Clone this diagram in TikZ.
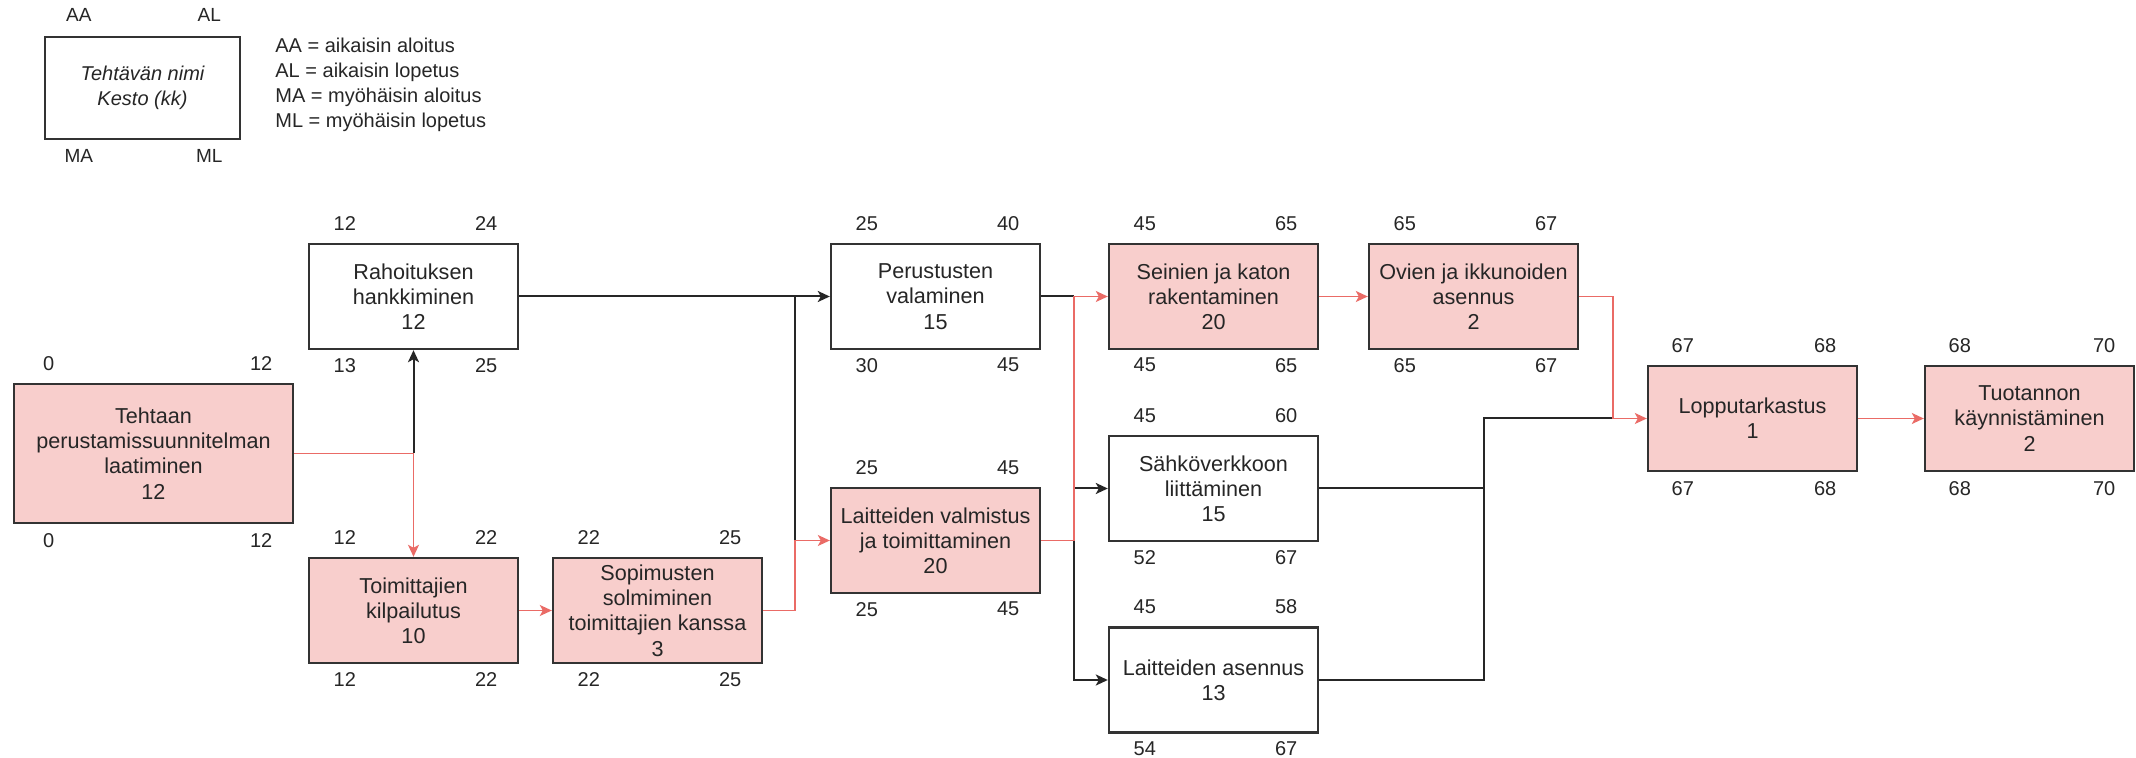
\documentclass[tikz,border=0pt]{standalone}
\usepackage{fontspec}
\setmainfont{Liberation Sans}
\usetikzlibrary{arrows.meta}

\definecolor{critfill}{HTML}{F8CECC}
\definecolor{critline}{HTML}{EA6B66}
\definecolor{boxline}{HTML}{333333}

\begin{document}
\begin{tikzpicture}[x=0.5pt, y=-0.5pt,
    task/.style={draw=boxline, line width=1.2pt, fill=white, minimum width=104.5pt, minimum height=52.5pt,
        inner sep=1pt, align=center, text=black!85, font=\fontsize{10.8}{12.6}\selectfont},
    crittask/.style={task, fill=critfill},
    num/.style={inner sep=0pt, text=black!85, font=\fontsize{10}{12}\selectfont},
    norm/.style={draw=black!85, line width=1pt},
    crit/.style={draw=critline, line width=0.7pt},
    nuoli/.style={-{Stealth[length=6pt, width=5.5pt, inset=1.5pt]}}
]

    % Fix the size of the picture
    \path[fill=white, use as bounding box] (0,0) rectangle (2136,758);

    % Legend box and its explanation
    \node[task, minimum width=97.5pt, minimum height=51pt, font=\itshape\fontsize{10}{12.5}\selectfont] (leg) at (142.5,88) {Tehtävän nimi\\Kesto (kk)};
    \node[num, font=\fontsize{9.5}{11}\selectfont] at ([xshift=17.5pt, yshift=10.5pt]leg.north west) {AA};
    \node[num, font=\fontsize{9.5}{11}\selectfont] at ([xshift=-16pt, yshift=10.5pt]leg.north east) {AL};
    \node[num, font=\fontsize{9.5}{11}\selectfont] at ([xshift=17.5pt, yshift=-8pt]leg.south west) {MA};
    \node[num, font=\fontsize{9.5}{11}\selectfont] at ([xshift=-16pt, yshift=-8pt]leg.south east) {ML};
    \node[num, anchor=west, align=left, font=\fontsize{10}{12.6}\selectfont] (selite) at (275,85)
        {AA = aikaisin aloitus\\AL = aikaisin lopetus\\MA = myöhäisin aloitus\\ML = myöhäisin lopetus};

    % Tehtaan perustamissuunnitelman laatiminen
    \node[crittask, minimum width=139.5pt, minimum height=69.5pt] (teh) at (153.5,453.5) {Tehtaan\\perustamissuunnitelman\\laatiminen\\12};
    \node[num] at ([xshift=18pt, yshift=9.5pt]teh.north west) {0};
    \node[num] at ([xshift=-16.5pt, yshift=9.5pt]teh.north east) {12};
    \node[num] at ([xshift=18pt, yshift=-8pt]teh.south west) {0};
    \node[num] at ([xshift=-16.5pt, yshift=-8pt]teh.south east) {12};

    % Rahoituksen hankkiminen
    \node[task] (rah) at (413.5,296.5) {Rahoituksen\\hankkiminen\\12};
    \node[num] at ([xshift=18.5pt, yshift=9.5pt]rah.north west) {12};
    \node[num] at ([xshift=-16.5pt, yshift=9.5pt]rah.north east) {24};
    \node[num] at ([xshift=18.5pt, yshift=-7.5pt]rah.south west) {13};
    \node[num] at ([xshift=-16.5pt, yshift=-7.5pt]rah.south east) {25};

    % Toimittajien kilpailutus
    \node[crittask] (toi) at (413.5,610.5) {Toimittajien\\kilpailutus\\10};
    \node[num] at ([xshift=18.5pt, yshift=9.5pt]toi.north west) {12};
    \node[num] at ([xshift=-16.5pt, yshift=9.5pt]toi.north east) {22};
    \node[num] at ([xshift=18.5pt, yshift=-7.5pt]toi.south west) {12};
    \node[num] at ([xshift=-16.5pt, yshift=-7.5pt]toi.south east) {22};

    % Sopimusten solmiminen
    \node[crittask] (sop) at (657.5,610.5) {Sopimusten\\solmiminen\\toimittajien kanssa\\3};
    \node[num] at ([xshift=18.5pt, yshift=9.5pt]sop.north west) {22};
    \node[num] at ([xshift=-16.5pt, yshift=9.5pt]sop.north east) {25};
    \node[num] at ([xshift=18.5pt, yshift=-7.5pt]sop.south west) {22};
    \node[num] at ([xshift=-16.5pt, yshift=-7.5pt]sop.south east) {25};

    % Perustusten valaminen
    \node[task] (per) at (935.5,296.5) {Perustusten\\valaminen\\15};
    \node[num] at ([xshift=18.5pt, yshift=9.5pt]per.north west) {25};
    \node[num] at ([xshift=-16.5pt, yshift=9.5pt]per.north east) {40};
    \node[num] at ([xshift=18.5pt, yshift=-7.5pt]per.south west) {30};
    \node[num] at ([xshift=-16.5pt, yshift=-7.5pt]per.south east) {45};

    % Laitteiden valmistus ja toimittaminen
    \node[crittask] (lva) at (935.5,540.5) {Laitteiden valmistus\\ja toimittaminen\\20};
    \node[num] at ([xshift=18.5pt, yshift=9.5pt]lva.north west) {25};
    \node[num] at ([xshift=-16.5pt, yshift=9.5pt]lva.north east) {45};
    \node[num] at ([xshift=18.5pt, yshift=-7.5pt]lva.south west) {25};
    \node[num] at ([xshift=-16.5pt, yshift=-7.5pt]lva.south east) {45};

    % Seinien ja katon rakentaminen
    \node[crittask] (sei) at (1213.5,296.5) {Seinien ja katon\\rakentaminen\\20};
    \node[num] at ([xshift=18.5pt, yshift=9.5pt]sei.north west) {45};
    \node[num] at ([xshift=-16.5pt, yshift=9.5pt]sei.north east) {65};
    \node[num] at ([xshift=18.5pt, yshift=-7.5pt]sei.south west) {45};
    \node[num] at ([xshift=-16.5pt, yshift=-7.5pt]sei.south east) {65};

    % Ovien ja ikkunoiden asennus
    \node[crittask] (ovi) at (1473.5,296.5) {Ovien ja ikkunoiden\\asennus\\2};
    \node[num] at ([xshift=18.5pt, yshift=9.5pt]ovi.north west) {65};
    \node[num] at ([xshift=-16.5pt, yshift=9.5pt]ovi.north east) {67};
    \node[num] at ([xshift=18.5pt, yshift=-7.5pt]ovi.south west) {65};
    \node[num] at ([xshift=-16.5pt, yshift=-7.5pt]ovi.south east) {67};

    % Sähköverkkoon liittäminen
    \node[task] (sah) at (1213.5,488.5) {Sähköverkkoon\\liittäminen\\15};
    \node[num] at ([xshift=18.5pt, yshift=9.5pt]sah.north west) {45};
    \node[num] at ([xshift=-16.5pt, yshift=9.5pt]sah.north east) {60};
    \node[num] at ([xshift=18.5pt, yshift=-7.5pt]sah.south west) {52};
    \node[num] at ([xshift=-16.5pt, yshift=-7.5pt]sah.south east) {67};

    % Laitteiden asennus
    \node[task] (las) at (1213.5,680) {Laitteiden asennus\\13};
    \node[num] at ([xshift=18.5pt, yshift=10pt]las.north west) {45};
    \node[num] at ([xshift=-16.5pt, yshift=10pt]las.north east) {58};
    \node[num] at ([xshift=18.5pt, yshift=-7.5pt]las.south west) {54};
    \node[num] at ([xshift=-16.5pt, yshift=-7.5pt]las.south east) {67};

    % Lopputarkastus
    \node[crittask] (lop) at (1752.5,418.5) {Lopputarkastus\\1};
    \node[num] at ([xshift=18pt, yshift=9.5pt]lop.north west) {67};
    \node[num] at ([xshift=-16.5pt, yshift=9.5pt]lop.north east) {68};
    \node[num] at ([xshift=18pt, yshift=-8pt]lop.south west) {67};
    \node[num] at ([xshift=-16.5pt, yshift=-8pt]lop.south east) {68};

    % Tuotannon käynnistäminen
    \node[crittask] (tuo) at (2029.5,418.5) {Tuotannon\\käynnistäminen\\2};
    \node[num] at ([xshift=18pt, yshift=9.5pt]tuo.north west) {68};
    \node[num] at ([xshift=-15.5pt, yshift=9.5pt]tuo.north east) {70};
    \node[num] at ([xshift=18pt, yshift=-8pt]tuo.south west) {68};
    \node[num] at ([xshift=-15.5pt, yshift=-8pt]tuo.south east) {70};

    % Junction points of the connectors
    \coordinate (j1) at (rah.south |- teh.east);
    \coordinate (j2) at (795,540.5);
    \coordinate (j3) at (1074,540.5);
    \coordinate (j4) at (1484,418.5);
    \coordinate (j5) at (1613,418.5);

    % Black connectors first
    \draw[norm, nuoli] (j1) -- (rah.south);
    \draw[norm, nuoli] (rah.east) -- (per.west);
    \draw[norm] (rah.east -| j2) -- (j2);
    \draw[norm] (per.east) -- (per.east -| j3);
    \draw[norm, nuoli] (sah.west -| j3) -- (sah.west);
    \draw[norm, nuoli] (j3) |- (las.west);
    \draw[norm] (sah.east) -| (j4);
    \draw[norm] (las.east) -| (j4) -- (j5);

    % Critical path on top
    \draw[crit] (teh.east) -- (j1);
    \draw[crit, nuoli] (j1) -- (toi.north);
    \draw[crit, nuoli] (toi.east) -- (sop.west);
    \draw[crit, nuoli] (sop.east) -| (j2) -- (lva.west);
    \draw[crit, nuoli] (lva.east) -- (j3) |- (sei.west);
    \draw[crit, nuoli] (sei.east) -- (ovi.west);
    \draw[crit, nuoli] (ovi.east) -| (j5) -- (lop.west);
    \draw[crit, nuoli] (lop.east) -- (tuo.west);

\end{tikzpicture}
\end{document}
